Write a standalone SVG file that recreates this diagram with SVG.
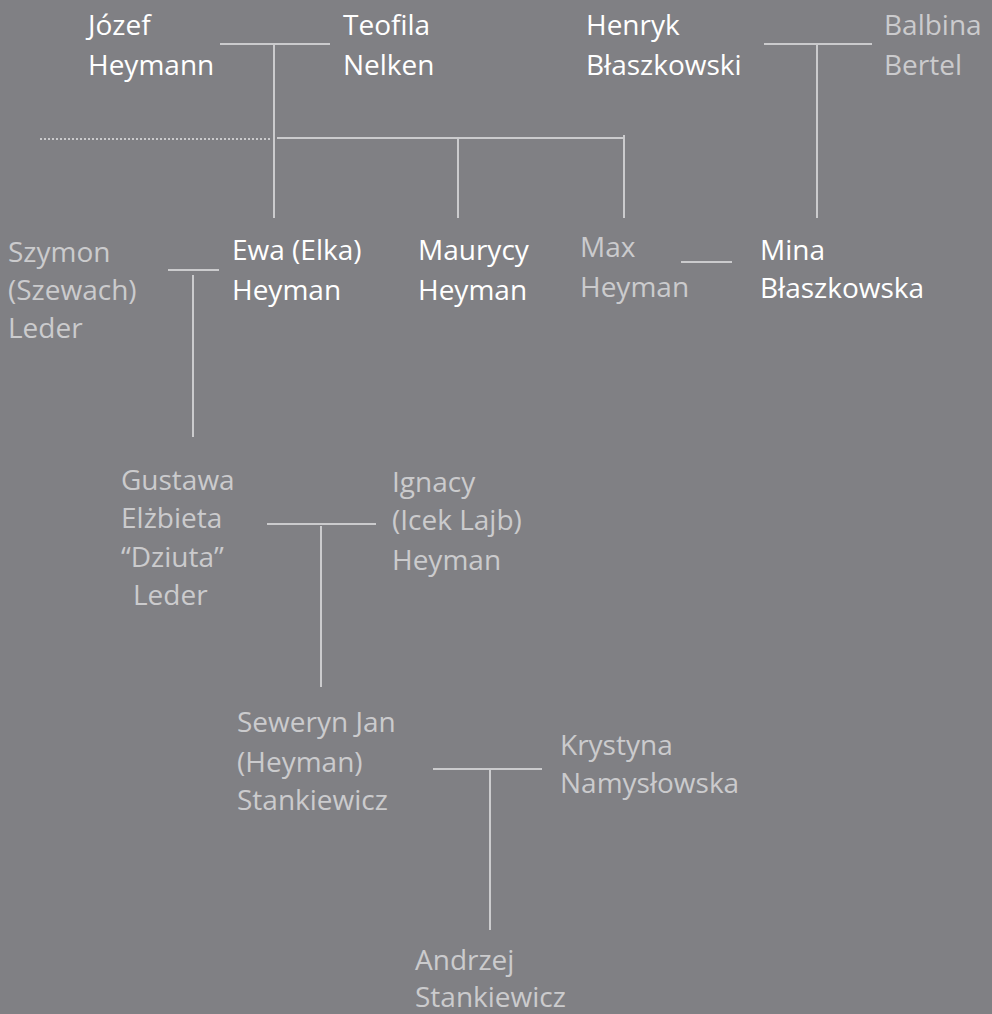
<svg xmlns="http://www.w3.org/2000/svg" width="992" height="1014" viewBox="0 0 992 1014">
<style>
text{font-family:"Open Sans","Noto Sans",sans-serif;font-size:28px}
.w{fill:#ffffff}
.g{fill:#cbcbcd}
.ln{stroke:#cbcbcd;stroke-width:2;fill:none}
.dot{stroke:#cbcbcd;stroke-width:2;stroke-dasharray:2 2;fill:none}
</style>
<rect width="992" height="1014" fill="#808084"/>
<g id="connectors">
<path class="ln" d="M220 44H330M274 44V218"/>
<path class="ln" d="M277 138H625M458 138V218M624 135V218"/>
<path class="dot" d="M40 139H272"/>
<path class="ln" d="M764 44H872M817 44V218"/>
<path class="ln" d="M168 270H219M193 275V437"/>
<path class="ln" d="M681 262H732"/>
<path class="ln" d="M267 524H376M321 526V687"/>
<path class="ln" d="M433 769H542M490 769V930"/>
</g>
<g id="jozef"><text class="w" x="88" y="35">Józef</text><text class="w" x="88" y="75">Heymann</text></g>
<g id="teofila"><text class="w" x="343" y="35">Teofila</text><text class="w" x="343" y="75">Nelken</text></g>
<g id="henryk"><text class="w" x="586" y="35">Henryk</text><text class="w" x="586" y="75">Błaszkowski</text></g>
<g id="balbina"><text class="g" x="884" y="35">Balbina</text><text class="g" x="884" y="75">Bertel</text></g>
<g id="szymon"><text class="g" x="8" y="262">Szymon</text><text class="g" x="8" y="300">(Szewach)</text><text class="g" x="8" y="338">Leder</text></g>
<g id="ewa"><text class="w" x="232" y="260">Ewa (Elka)</text><text class="w" x="232" y="300">Heyman</text></g>
<g id="maurycy"><text class="w" x="418" y="260">Maurycy</text><text class="w" x="418" y="300">Heyman</text></g>
<g id="max"><text class="g" x="580" y="257">Max</text><text class="g" x="580" y="297">Heyman</text></g>
<g id="mina"><text class="w" x="760" y="260">Mina</text><text class="w" x="760" y="298">Błaszkowska</text></g>
<g id="gustawa"><text class="g" x="121" y="490">Gustawa</text><text class="g" x="121" y="528">Elżbieta</text><text class="g" x="121" y="567">“Dziuta”</text><text class="g" x="133" y="605">Leder</text></g>
<g id="ignacy"><text class="g" x="392" y="492">Ignacy</text><text class="g" x="392" y="530">(Icek Lajb)</text><text class="g" x="392" y="570">Heyman</text></g>
<g id="seweryn"><text class="g" x="237" y="732">Seweryn Jan</text><text class="g" x="237" y="772">(Heyman)</text><text class="g" x="237" y="810">Stankiewicz</text></g>
<g id="krystyna"><text class="g" x="560" y="755">Krystyna</text><text class="g" x="560" y="793">Namysłowska</text></g>
<g id="andrzej"><text class="g" x="415" y="970">Andrzej</text><text class="g" x="415" y="1007">Stankiewicz</text></g>
</svg>
